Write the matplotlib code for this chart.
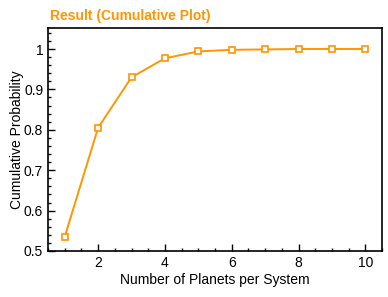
import matplotlib
matplotlib.use("Agg")
import matplotlib.pyplot as plt
from matplotlib.ticker import MultipleLocator

planets = [1, 2, 3, 4, 5, 6, 7, 8, 9, 10]
cum_prob = [0.535, 0.805, 0.930, 0.977, 0.994, 0.998, 0.999, 1.0, 1.0, 1.0]
orange = "#FF9500"

plt.rcParams['font.family'] = ['Liberation Sans', 'DejaVu Sans']
fig = plt.figure(figsize=(3.88, 2.97), dpi=100)
ax = fig.add_axes([48/388, 1 - 251/297, (382-48)/388, (251-28)/297])
ax.plot(planets, cum_prob, color=orange, lw=1.4, marker="s", ms=4.8,
        mfc="white", mec=orange, mew=1.2)
ax.set_xlim(0.5, 10.5)
ax.set_ylim(0.5, 1.052)
ax.set_xticks([2, 4, 6, 8, 10])
ax.set_yticks([0.5, 0.6, 0.7, 0.8, 0.9, 1.0])
ax.set_yticklabels(["0.5", "0.6", "0.7", "0.8", "0.9", "1"])
ax.xaxis.set_minor_locator(MultipleLocator(0.5))
ax.yaxis.set_minor_locator(MultipleLocator(0.02))
ax.tick_params(which="both", direction="in", labelsize=10, width=1)
ax.tick_params(which="major", length=5)
ax.tick_params(which="minor", length=2.5)
for s in ax.spines.values():
    s.set_linewidth(1.2)
ax.set_xlabel("Number of Planets per System", fontsize=10, labelpad=2)
ax.set_ylabel("Cumulative Probability", fontsize=10, labelpad=0)
fig.text(50/388, 1 - 16/297, "Result (Cumulative Plot)", color=orange,
         fontsize=10, fontweight="bold", va="center", ha="left")
fig.savefig("out.png", dpi=100)
